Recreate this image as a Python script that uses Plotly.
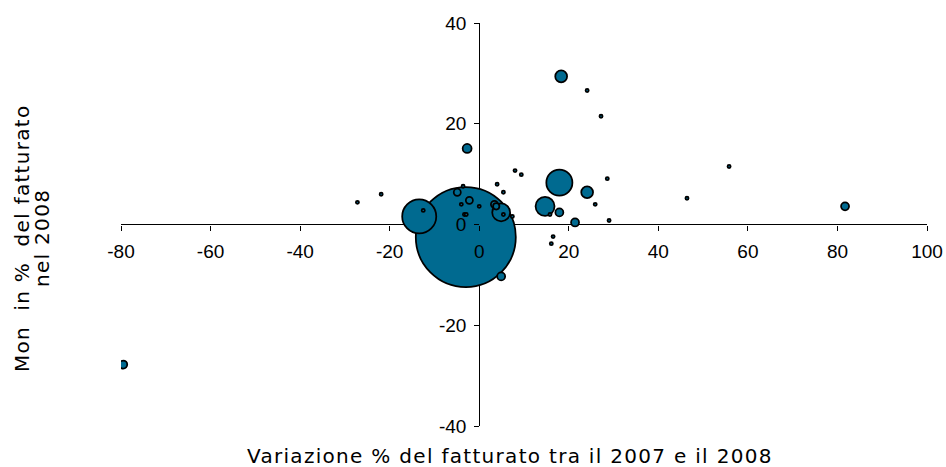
import plotly.graph_objects as go

# Bubble data: x = variazione % fatturato 2007-2008, y = MON % fatturato 2008, size = relative fatturato
x_vals = [-3.0, -13.4, 17.9, 14.7, 4.9, 18.3, 24.1, 17.9, 21.4, 81.7, -79.5, -2.7, 4.9,
          -4.9, -2.2, 3.4, 3.8,
          -12.5, 24.1, 27.2, 28.6, 25.9, 29.0, 46.4, 55.8, 16.5, 16.1, 15.8, 8.0, 9.4,
          4.0, 5.4, -3.6, -4.0, 0.0, -3.3, -2.9, 5.4, 7.4, -27.2, -21.9]
y_vals = [-2.5, 1.6, 8.3, 3.6, 2.4, 29.4, 6.4, 2.4, 0.4, 3.6, -27.8, 15.1, -10.3,
          6.4, 4.8, 4.0, 3.6,
          2.8, 26.6, 21.5, 9.1, 4.0, 0.8, 5.2, 11.5, -2.4, -3.8, 2.0, 10.7, 9.9,
          8.0, 6.4, 7.6, 4.0, 3.6, 2.0, 2.0, 2.0, 1.6, 4.4, 6.0]
sizes = [1000, 116, 68, 36, 32, 14, 14, 6.4, 6.4, 6.4, 6.4, 8, 6.4,
         5, 5, 5, 4,
         1, 1, 1, 1, 1, 1, 1, 1, 1, 1, 1, 1, 1,
         1, 1, 1, 1, 1, 1, 1, 1, 1, 1, 1]

x_ticks = [-80, -60, -40, -20, 0, 20, 40, 60, 80, 100]
y_ticks = [-40, -20, 0, 20, 40]

x_title = "Variazione % del fatturato tra il 2007 e il 2008"
y_title_1 = "Mon\u00a0\u00a0in %\u00a0\u00a0del fatturato"
y_title_2 = "nel 2008"

order = sorted(range(len(sizes)), key=lambda i: -sizes[i])
xs = [x_vals[i] for i in order]
ys = [y_vals[i] for i in order]
ss = [sizes[i] for i in order]

fig = go.Figure()
fig.add_trace(go.Scatter(
    x=xs, y=ys, mode="markers",
    marker=dict(size=ss, sizemode="area", sizeref=0.2, color="#006A90",
                line=dict(color="black", width=1.75), opacity=1),
    hoverinfo="x+y",
))

tick_font = dict(family="Liberation Sans, Arial, sans-serif", size=19, color="black")
title_font = dict(family="DejaVu Sans, sans-serif", size=20, color="black")


def spaced(t):
    return '<span style="letter-spacing:1.3px">' + t + '</span>'


fig.update_layout(
    width=946, height=467,
    margin=dict(l=121, r=19, t=23, b=41, autoexpand=False),
    paper_bgcolor="white", plot_bgcolor="white",
    showlegend=False,
    xaxis=dict(range=[-80, 100], tickvals=x_ticks, ticktext=[str(v) for v in x_ticks],
               anchor="free", position=0.5, showline=False, showgrid=False,
               zeroline=True, zerolinecolor="black", zerolinewidth=1,
               ticks="outside", ticklen=5, tickcolor="black", tickwidth=1,
               ticklabelstandoff=5, automargin=False,
               tickfont=tick_font, layer="above traces"),
    yaxis=dict(range=[-40, 40], tickvals=y_ticks, ticktext=[str(v) for v in y_ticks],
               anchor="free", position=80 / 180, showline=False, showgrid=False,
               zeroline=True, zerolinecolor="black", zerolinewidth=1,
               ticks="outside", ticklen=5, tickcolor="black", tickwidth=1,
               ticklabelstandoff=4, automargin=False,
               tickfont=tick_font, layer="above traces"),
    annotations=[
        dict(text=spaced(x_title), xref="paper", yref="paper", x=0.4826, y=-0.074,
             showarrow=False, xanchor="center", yanchor="middle", font=title_font),
        dict(text=spaced(y_title_1), xref="paper", yref="paper", x=-0.1228, y=0.4665,
             showarrow=False, xanchor="center", yanchor="middle", textangle=-90,
             font=title_font),
        dict(text=spaced(y_title_2), xref="paper", yref="paper", x=-0.098, y=0.4665,
             showarrow=False, xanchor="center", yanchor="middle", textangle=-90,
             font=title_font),
    ],
)

fig.write_html("out.html", config={"displayModeBar": False},
               post_script="document.body.style.margin='0px';")
